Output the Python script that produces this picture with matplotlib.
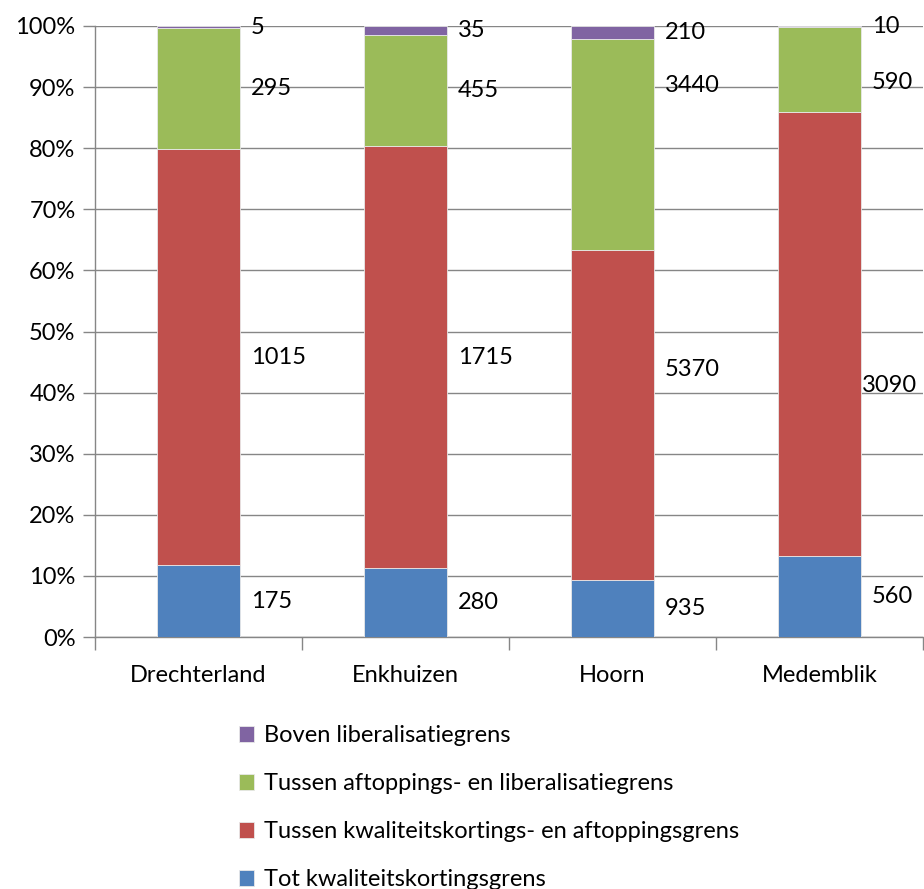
import numpy as np
import matplotlib
matplotlib.use("Agg")
import matplotlib.pyplot as plt
from matplotlib.ticker import FixedLocator, PercentFormatter

plt.rcParams['font.family'] = ['Lato', 'DejaVu Sans']

gemeenten = ['Drechterland', 'Enkhuizen', 'Hoorn', 'Medemblik']
tot_kwal = [175, 280, 935, 560]
kwal_aft = [1015, 1715, 5370, 3090]
aft_lib = [295, 455, 3440, 590]
boven_lib = [5, 35, 210, 10]

reeksen = [
    ('Tot kwaliteitskortingsgrens', tot_kwal, '#4F81BD'),
    ('Tussen kwaliteitskortings- en aftoppingsgrens', kwal_aft, '#C0504D'),
    ('Tussen aftoppings- en liberalisatiegrens', aft_lib, '#9BBB59'),
    ('Boven liberalisatiegrens', boven_lib, '#8064A2'),
]

# handmatig verschoven labels (reeks, gemeente) -> (hoogte in %, x-offset in pt)
label_pos = {(1, 2): (43.7, 8), (2, 2): (90.3, 8),
             (1, 3): (41.2, 1), (2, 3): (90.8, 8)}

W, H = 924, 889
fig = plt.figure(figsize=(W / 100, H / 100), dpi=100)
ax = fig.add_axes([95 / W, (H - 637) / H, 828 / W, 611 / H])

totaal = np.sum([r[1] for r in reeksen], axis=0)
x = np.arange(len(gemeenten))
onder = np.zeros(len(gemeenten))
handles = []
for i, (naam, waarden, kleur) in enumerate(reeksen):
    aandeel = np.array(waarden) / totaal * 100
    b = ax.bar(x, aandeel, 0.4, bottom=onder, color=kleur, label=naam,
               edgecolor='#e8e8e8', linewidth=0.6, zorder=3)
    handles.append(b)
    for j, (xi, yi, h, v) in enumerate(zip(x, onder, aandeel, waarden)):
        ly, dx = label_pos.get((i, j), (yi + h / 2, 8))
        ax.annotate(str(v), (xi + 0.2, ly), xytext=(dx, 0),
                    textcoords='offset points', ha='left', va='center',
                    fontsize=17, color='black', zorder=4)
    onder += aandeel

ax.set_xlim(-0.5, len(gemeenten) - 0.5)
ax.set_ylim(0, 100)
ax.yaxis.set_major_locator(FixedLocator(np.arange(0, 101, 10)))
ax.yaxis.set_major_formatter(PercentFormatter(decimals=0))
ax.grid(axis='y', color='#868686', linewidth=1, zorder=0)
ax.set_axisbelow(True)

ax.set_xticks(x)
ax.set_xticklabels(gemeenten)
ax.set_xticks(np.arange(-0.5, len(gemeenten)), minor=True)
ax.tick_params(axis='x', which='major', length=0, pad=20, labelsize=17)
ax.tick_params(axis='x', which='minor', length=9, color='#868686', width=1)
ax.tick_params(axis='y', length=9, color='#868686', width=1, pad=5, labelsize=17)

for s in ['top', 'right']:
    ax.spines[s].set_visible(False)
for s in ['left', 'bottom']:
    ax.spines[s].set_color('#868686')
    ax.spines[s].set_linewidth(1)

fig.legend(handles[::-1], [r[0] for r in reeksen][::-1],
           loc='upper left', bbox_to_anchor=(230 / W, 1 - 716 / H),
           frameon=False, fontsize=17, handlelength=0.62, handleheight=0.62,
           handletextpad=0.4, labelspacing=1.14, borderaxespad=0)

fig.savefig('out.png', dpi=100)
